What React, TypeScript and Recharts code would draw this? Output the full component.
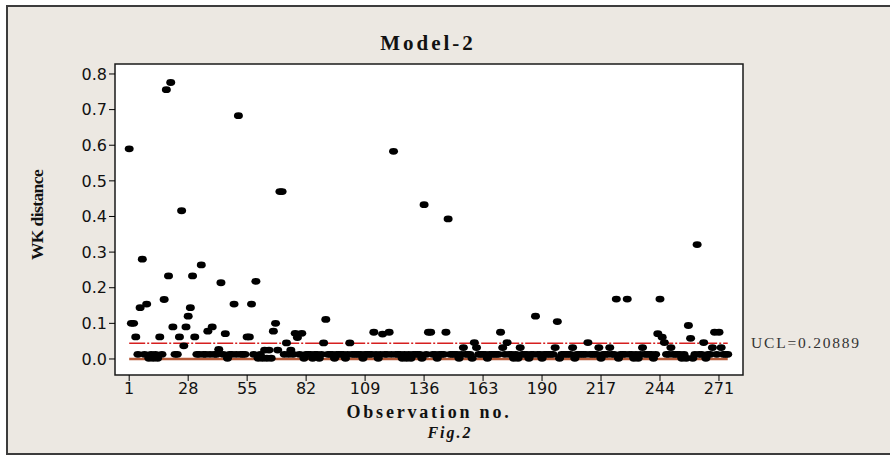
import React from "react";
import {
  ScatterChart,
  Scatter,
  XAxis,
  YAxis,
  CartesianGrid,
  ReferenceLine,
  ReferenceArea,
} from "recharts";

const wkDistance = [
  0.59, 0.1, 0.1, 0.062, 0.013, 0.144, 0.28, 0.013, 0.154, 0.002, 0.013, 0.002, 0.013, 0.002, 0.062,
  0.013, 0.167, 0.756, 0.233, 0.776, 0.09, 0.013, 0.013, 0.062, 0.416, 0.037, 0.09, 0.12, 0.144, 0.233,
  0.062, 0.013, 0.013, 0.264, 0.013, 0.013, 0.078, 0.013, 0.09, 0.013, 0.013, 0.027, 0.214, 0.013, 0.071,
  0.002, 0.013, 0.013, 0.154, 0.013, 0.683, 0.013, 0.013, 0.013, 0.062, 0.062, 0.154, 0.013, 0.218, 0.002,
  0.013, 0.002, 0.025, 0.002, 0.025, 0.002, 0.078, 0.1, 0.025, 0.47, 0.47, 0.013, 0.045, 0.013, 0.025,
  0.013, 0.072, 0.06, 0.013, 0.072, 0.002, 0.013, 0.013, 0.013, 0.002, 0.013, 0.013, 0.002, 0.013, 0.045,
  0.111, 0.013, 0.013, 0.013, 0.002, 0.013, 0.013, 0.013, 0.013, 0.002, 0.013, 0.045, 0.013, 0.013, 0.013,
  0.013, 0.013, 0.002, 0.013, 0.013, 0.013, 0.013, 0.075, 0.013, 0.002, 0.013, 0.07, 0.013, 0.013, 0.075,
  0.013, 0.583, 0.013, 0.013, 0.013, 0.002, 0.013, 0.002, 0.013, 0.002, 0.013, 0.013, 0.013, 0.013, 0.002,
  0.433, 0.013, 0.075, 0.075, 0.013, 0.013, 0.002, 0.013, 0.013, 0.013, 0.075, 0.393, 0.013, 0.013, 0.013,
  0.013, 0.002, 0.013, 0.032, 0.013, 0.013, 0.013, 0.002, 0.046, 0.032, 0.013, 0.013, 0.013, 0.013, 0.002,
  0.013, 0.013, 0.013, 0.013, 0.013, 0.075, 0.032, 0.013, 0.046, 0.013, 0.013, 0.002, 0.013, 0.002, 0.032,
  0.013, 0.013, 0.013, 0.002, 0.013, 0.013, 0.12, 0.013, 0.013, 0.002, 0.013, 0.013, 0.013, 0.013, 0.013,
  0.032, 0.105, 0.002, 0.013, 0.013, 0.013, 0.013, 0.013, 0.032, 0.002, 0.013, 0.013, 0.013, 0.013, 0.013,
  0.046, 0.013, 0.013, 0.013, 0.013, 0.032, 0.002, 0.013, 0.013, 0.013, 0.032, 0.013, 0.013, 0.168, 0.002,
  0.013, 0.013, 0.013, 0.168, 0.013, 0.013, 0.002, 0.013, 0.002, 0.013, 0.032, 0.013, 0.013, 0.013, 0.013,
  0.002, 0.013, 0.071, 0.168, 0.061, 0.046, 0.013, 0.013, 0.032, 0.013, 0.013, 0.013, 0.013, 0.002, 0.013,
  0.002, 0.094, 0.058, 0.002, 0.013, 0.321, 0.013, 0.013, 0.046, 0.002, 0.013, 0.013, 0.032, 0.075, 0.013,
  0.075, 0.032, 0.013, 0.013, 0.013,
];

const xTicks = [1, 28, 55, 82, 109, 136, 163, 190, 217, 244, 271];
const yTicks = [0, 0.1, 0.2, 0.3, 0.4, 0.5, 0.6, 0.7, 0.8];

const ucl = 0.044; // dash-dot limit line as drawn
const centre = 0.0;
const lineStart = 1;
const lineEnd = 275;

const TICK_FONT = { fontFamily: "DejaVu Sans", fontSize: 16, fill: "#111" };
const SERIF = "Liberation Serif";

const data = wkDistance.map((v, i) => ({ obs: i + 1, wk: v }));

function Dot(props: any) {
  const { cx, cy } = props;
  if (cx == null || cy == null) return null;
  return <ellipse cx={cx} cy={cy} rx={4.5} ry={3.4} fill="#000" />;
}

export default function App() {
  return (
    <div style={{ position: "absolute", left: 0, top: 0, width: 890, height: 460, background: "#fff", overflow: "hidden" }}>
      <div
        style={{
          position: "absolute",
          left: 6,
          top: 5,
          width: 890,
          height: 450,
          background: "#ece8e2",
          border: "2px solid #3c3c3c",
          boxSizing: "border-box",
        }}
      />
      <div style={{ position: "absolute", left: 0, top: 0 }}>
        <ScatterChart width={890} height={460} margin={{ top: 64, right: 147, bottom: 55, left: 55 }}>
          <CartesianGrid horizontal={false} vertical={false} fill="#fff" />
          <XAxis
            type="number"
            dataKey="obs"
            domain={[-5.5, 282]}
            ticks={xTicks}
            allowDataOverflow
            axisLine={false}
            tickLine={{ stroke: "#000" }}
            tickSize={6}
            height={30}
            tick={TICK_FONT}
            interval={0}
          />
          <YAxis
            type="number"
            dataKey="wk"
            domain={[-0.045, 0.828]}
            ticks={yTicks}
            allowDataOverflow
            axisLine={false}
            tickLine={{ stroke: "#000" }}
            tickSize={6}
            width={60}
            tick={TICK_FONT}
            tickFormatter={(v: number) => v.toFixed(1)}
            interval={0}
          />
          <ReferenceLine
            segment={[{ x: lineStart, y: centre }, { x: lineEnd, y: centre }]}
            stroke="#b65a38"
            strokeWidth={2.5}
          />
          <ReferenceLine
            segment={[{ x: lineStart, y: ucl }, { x: lineEnd, y: ucl }]}
            stroke="#d61f1f"
            strokeWidth={1.6}
            strokeDasharray="16 2 2 2"
          />
          <Scatter data={data} shape={<Dot />} isAnimationActive={false} />
          <ReferenceArea x1={-5.5} x2={282} y1={-0.045} y2={0.828} fill="none" stroke="#1a1a1a" strokeWidth={1.5} />
        </ScatterChart>
      </div>
      <svg width={890} height={460} style={{ position: "absolute", left: 0, top: 0, pointerEvents: "none" }}>
        <text x={428} y={50} textAnchor="middle" fontFamily={SERIF} fontWeight="bold" fontSize={21} letterSpacing={3} fill="#111">
          Model-2
        </text>
        <text x={429} y={418} textAnchor="middle" fontFamily={SERIF} fontWeight="bold" fontSize={18} letterSpacing={2.8} fill="#111">
          Observation no.
        </text>
        <text x={450} y={438} textAnchor="middle" fontFamily={SERIF} fontWeight="bold" fontStyle="italic" fontSize={16} letterSpacing={2} fill="#111">
          Fig.2
        </text>
        <text
          transform="translate(43,215) rotate(-90)"
          textAnchor="middle"
          fontFamily={SERIF}
          fontWeight="bold"
          fontSize={17.5}
          letterSpacing={-0.6}
          fill="#111"
        >
          WK distance
        </text>
        <text x={751} y={348} fontFamily={SERIF} fontSize={15.5} letterSpacing={1.8} fill="#333">
          UCL=0.20889
        </text>
      </svg>
    </div>
  );
}
